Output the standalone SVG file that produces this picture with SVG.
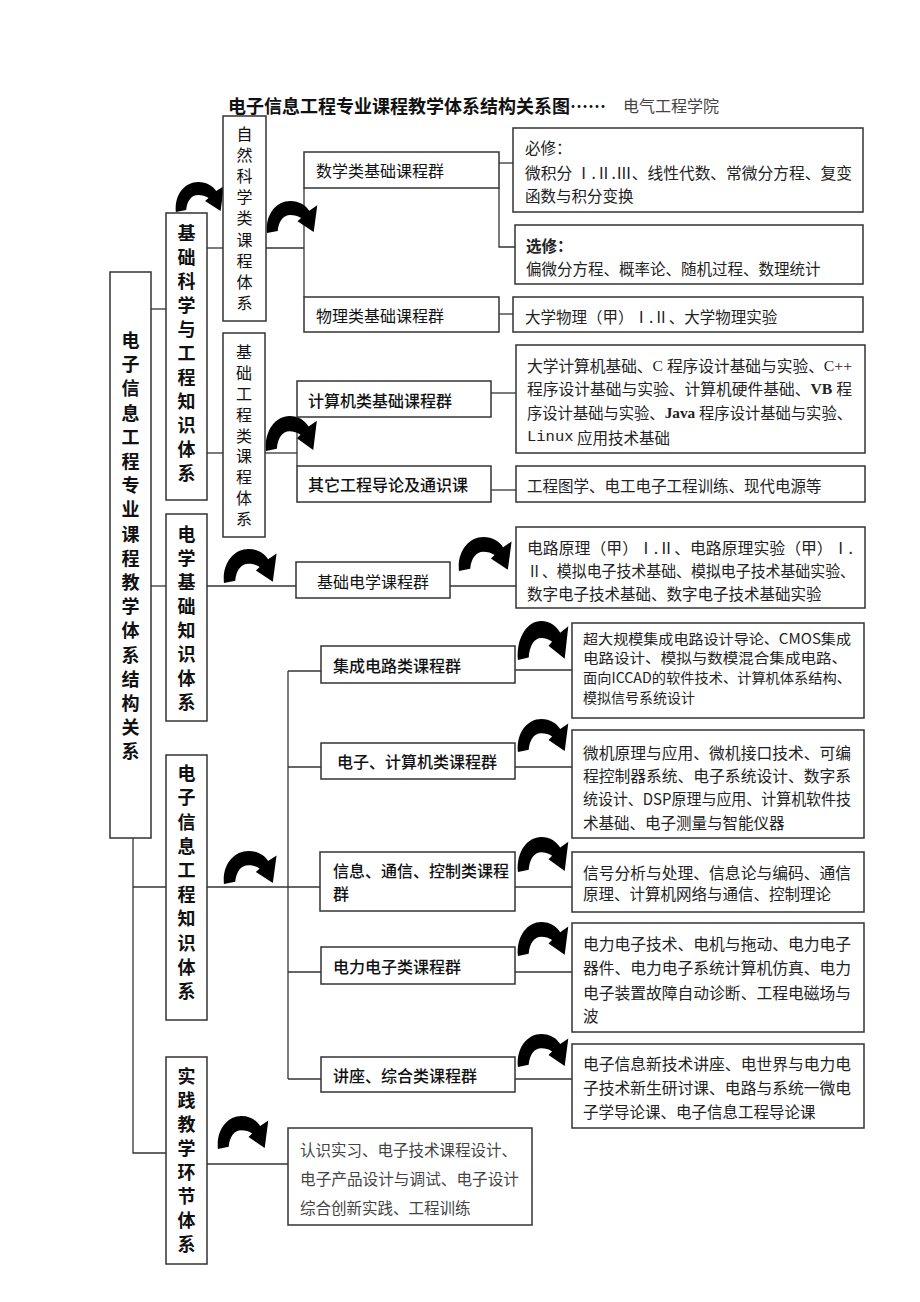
<svg xmlns="http://www.w3.org/2000/svg" width="920" height="1302" viewBox="0 0 920 1302">
<style>
.box{fill:#fff;stroke:#333;stroke-width:1.5}
.ln{fill:none;stroke:#333;stroke-width:1.3}
text{font-family:"Noto Sans CJK SC","Liberation Sans",sans-serif;dominant-baseline:central;fill:#111}
.v{font-size:18px;font-weight:bold;text-anchor:middle}
.vs{font-size:16px;text-anchor:middle}
.g{font-size:16px}
.gb{font-size:16px;font-weight:500}
.c{font-size:15.5px;fill:#222}
.c14{font-size:14px;fill:#222}
.lat{font-family:"Liberation Serif",serif}
.arw{fill:#000}
</style>
<defs>
<path id="carrow" d="M1,30 C-1,12 12,0 27,0 C37,0 44,4 48,9 L57,4 L53,29 L35,19 L39,16 C36,14 31,13 27,13 C19,13 14,19 13,28 Z"/>
</defs>

<g id="title">
<text x="228" y="105" style="font-size:18px;font-weight:bold">电子信息工程专业课程教学体系结构关系图……</text>
<text x="623" y="105" style="font-size:16px;fill:#444">电气工程学院</text>
</g>

<g id="connectors" class="ln">
<path d="M151,309 H166"/>
<path d="M151,586 H166"/>
<path d="M133,838 V1153 H166"/>
<path d="M133,887 H166"/>
<path d="M207,248 H223"/>
<path d="M266,248 H304"/>
<path d="M304,188 V297"/>
<path d="M499,163 H513"/>
<path d="M499,188 V247 H515"/>
<path d="M499,314 H513"/>
<path d="M207,453 H223"/>
<path d="M265,453 H297"/>
<path d="M297,417 V466"/>
<path d="M491,393 H516"/>
<path d="M491,490 H516"/>
<path d="M207,586 H296"/>
<path d="M450,586 H516"/>
<path d="M207,887 H320"/>
<path d="M288,671 V1079"/>
<path d="M288,671 H321"/>
<path d="M288,767 H321"/>
<path d="M288,972 H321"/>
<path d="M288,1079 H321"/>
<path d="M515,670 H572"/>
<path d="M515,767 H572"/>
<path d="M515,887 H572"/>
<path d="M515,972 H572"/>
<path d="M515,1079 H572"/>
<path d="M207,1164 H288"/>
</g>

<g id="curved-arrows" class="arw">
<use href="#carrow" transform="translate(175,182) scale(0.86,1.0)"/>
<use href="#carrow" transform="translate(266,201) scale(0.9,1.07)"/>
<use href="#carrow" transform="translate(265,416) scale(0.91,1.17)"/>
<use href="#carrow" transform="translate(223,549) scale(0.94,1.13)"/>
<use href="#carrow" transform="translate(458,537) scale(0.94,1.13)"/>
<use href="#carrow" transform="translate(517,621) scale(0.9,1.3)"/>
<use href="#carrow" transform="translate(517,719) scale(0.9,1.1)"/>
<use href="#carrow" transform="translate(517,837) scale(0.9,1.17)"/>
<use href="#carrow" transform="translate(517,922) scale(0.9,1.13)"/>
<use href="#carrow" transform="translate(517,1034) scale(0.9,1.1)"/>
<use href="#carrow" transform="translate(223,851) scale(0.94,1.1)"/>
<use href="#carrow" transform="translate(217,1116) scale(0.9,1.1)"/>
</g>

<g id="n-main">
<rect class="box" x="110" y="272" width="41" height="566"/>
<text class="v" x="130.5 130.5 130.5 130.5 130.5 130.5 130.5 130.5 130.5 130.5 130.5 130.5 130.5 130.5 130.5 130.5 130.5 130.5" y="339 363 387 412 436 460 484 508 533 557 581 605 629 654 678 702 726 750">电子信息工程专业课程教学体系结构关系</text>
</g>

<g id="n-jckx">
<rect class="box" x="166" y="213" width="41" height="287"/>
<text class="v" x="186.5 186.5 186.5 186.5 186.5 186.5 186.5 186.5 186.5 186.5 186.5" y="232 256 280 304 328 352 376 400 424 448 472">基础科学与工程知识体系</text>
</g>

<g id="n-zrkx">
<rect class="box" x="223" y="116" width="43" height="205"/>
<text class="vs" x="244.5 244.5 244.5 244.5 244.5 244.5 244.5 244.5 244.5" y="133 154 175 196 217 239 260 281 302">自然科学类课程体系</text>
</g>

<g id="n-jcgc">
<rect class="box" x="223" y="333" width="42" height="204"/>
<text class="vs" x="244 244 244 244 244 244 244 244 244" y="351 372 393 414 435 455 476 497 518">基础工程类课程体系</text>
</g>

<g id="n-sx">
<rect class="box" x="304" y="152" width="195" height="36"/>
<text class="g" x="316" y="170">数学类基础课程群</text>
</g>

<g id="n-wl">
<rect class="box" x="304" y="297" width="195" height="35"/>
<text class="g" x="316" y="315">物理类基础课程群</text>
</g>

<g id="n-jsj">
<rect class="box" x="297" y="381" width="194" height="36"/>
<text class="gb" x="308" y="400">计算机类基础课程群</text>
</g>

<g id="n-qt">
<rect class="box" x="297" y="466" width="194" height="36"/>
<text class="gb" x="308" y="484">其它工程导论及通识课</text>
</g>

<g id="n-bx">
<rect class="box" x="513" y="128" width="350" height="84"/>
<text class="c" x="525" y="147">必修：</text>
<text class="c" x="525" y="172" textLength="327" lengthAdjust="spacingAndGlyphs">微积分 Ⅰ.Ⅱ.Ⅲ、线性代数、常微分方程、复变</text>
<text class="c" x="525" y="195">函数与积分变换</text>
</g>

<g id="n-xx">
<rect class="box" x="515" y="225" width="348" height="59"/>
<text class="c" x="526" y="245" style="font-weight:bold">选修：</text>
<text class="c" x="526" y="268">偏微分方程、概率论、随机过程、数理统计</text>
</g>

<g id="n-dxwl">
<rect class="box" x="513" y="297" width="350" height="35"/>
<text class="c" x="525" y="316">大学物理（甲）Ⅰ.Ⅱ、大学物理实验</text>
</g>

<g id="n-jsjkc">
<rect class="box" x="516" y="345" width="349" height="108"/>
<text class="c" x="527" y="365" textLength="325" lengthAdjust="spacingAndGlyphs">大学计算机基础、<tspan class="lat">C </tspan>程序设计基础与实验、<tspan class="lat">C++</tspan></text>
<text class="c" x="527" y="388" textLength="325" lengthAdjust="spacingAndGlyphs">程序设计基础与实验、计算机硬件基础、<tspan class="lat" font-weight="bold">VB </tspan>程</text>
<text class="c" x="527" y="412" textLength="325" lengthAdjust="spacingAndGlyphs">序设计基础与实验、<tspan class="lat" font-weight="bold">Java </tspan>程序设计基础与实验、</text>
<text class="c" x="527" y="437"><tspan font-family="Liberation Mono,monospace">Linux</tspan> 应用技术基础</text>
</g>

<g id="n-gctx">
<rect class="box" x="516" y="466" width="349" height="36"/>
<text class="c" x="527" y="485">工程图学、电工电子工程训练、现代电源等</text>
</g>

<g id="n-dx">
<rect class="box" x="166" y="514" width="41" height="207"/>
<text class="v" x="186.5 186.5 186.5 186.5 186.5 186.5 186.5 186.5" y="533 557 581 605 629 653 677 701">电学基础知识体系</text>
</g>

<g id="n-jcdx">
<rect class="box" x="296" y="562" width="154" height="36"/>
<text class="g" x="317" y="581">基础电学课程群</text>
</g>

<g id="n-dlyl">
<rect class="box" x="516" y="527" width="349" height="81"/>
<text class="c" x="527" y="547" textLength="326" lengthAdjust="spacingAndGlyphs">电路原理（甲）Ⅰ.Ⅱ、电路原理实验（甲）Ⅰ.</text>
<text class="c" x="527" y="570" textLength="328" lengthAdjust="spacingAndGlyphs">Ⅱ、模拟电子技术基础、模拟电子技术基础实验、</text>
<text class="c" x="527" y="593">数字电子技术基础、数字电子技术基础实验</text>
</g>

<g id="n-dzxx">
<rect class="box" x="166" y="755" width="41" height="265"/>
<text class="v" x="186.5 186.5 186.5 186.5 186.5 186.5 186.5 186.5 186.5 186.5" y="772 796 821 845 869 893 917 942 966 990">电子信息工程知识体系</text>
</g>

<g id="n-sj">
<rect class="box" x="166" y="1057" width="41" height="207"/>
<text class="v" x="186.5 186.5 186.5 186.5 186.5 186.5 186.5 186.5" y="1075 1099 1123 1147 1171 1195 1219 1243">实践教学环节体系</text>
</g>

<g id="n-jcdl">
<rect class="box" x="321" y="646" width="194" height="37"/>
<text class="gb" x="333" y="665">集成电路类课程群</text>
</g>

<g id="n-dzjsj">
<rect class="box" x="321" y="743" width="194" height="36"/>
<text class="gb" x="337" y="761">电子、计算机类课程群</text>
</g>

<g id="n-xxtx">
<rect class="box" x="320" y="852" width="195" height="59"/>
<text class="gb" x="333" y="870">信息、通信、控制类课程</text>
<text class="gb" x="333" y="893">群</text>
</g>

<g id="n-dldz">
<rect class="box" x="321" y="947" width="194" height="37"/>
<text class="gb" x="333" y="966">电力电子类课程群</text>
</g>

<g id="n-jz">
<rect class="box" x="321" y="1057" width="194" height="35"/>
<text class="gb" x="333" y="1075">讲座、综合类课程群</text>
</g>

<g id="n-cdgm">
<rect class="box" x="572" y="623" width="292" height="95"/>
<text class="c14" x="583" y="638" textLength="268" lengthAdjust="spacingAndGlyphs">超大规模集成电路设计导论、CMOS集成</text>
<text class="c14" x="583" y="657" textLength="264" lengthAdjust="spacingAndGlyphs">电路设计、模拟与数模混合集成电路、</text>
<text class="c14" x="583" y="677" textLength="268" lengthAdjust="spacingAndGlyphs">面向ICCAD的软件技术、计算机体系结构、</text>
<text class="c14" x="583" y="697">模拟信号系统设计</text>
</g>

<g id="n-wjyl">
<rect class="box" x="572" y="730" width="292" height="108"/>
<text class="c" x="583" y="752" textLength="268" lengthAdjust="spacingAndGlyphs">微机原理与应用、微机接口技术、可编</text>
<text class="c" x="583" y="775" textLength="268" lengthAdjust="spacingAndGlyphs">程控制器系统、电子系统设计、数字系</text>
<text class="c" x="583" y="798" textLength="268" lengthAdjust="spacingAndGlyphs">统设计、DSP原理与应用、计算机软件技</text>
<text class="c" x="583" y="822">术基础、电子测量与智能仪器</text>
</g>

<g id="n-xhfx">
<rect class="box" x="572" y="852" width="292" height="60"/>
<text class="c" x="583" y="872" textLength="268" lengthAdjust="spacingAndGlyphs">信号分析与处理、信息论与编码、通信</text>
<text class="c" x="583" y="893">原理、计算机网络与通信、控制理论</text>
</g>

<g id="n-dldzjs">
<rect class="box" x="572" y="923" width="292" height="109"/>
<text class="c" x="583" y="943" textLength="268" lengthAdjust="spacingAndGlyphs">电力电子技术、电机与拖动、电力电子</text>
<text class="c" x="583" y="967" textLength="268" lengthAdjust="spacingAndGlyphs">器件、电力电子系统计算机仿真、电力</text>
<text class="c" x="583" y="992" textLength="268" lengthAdjust="spacingAndGlyphs">电子装置故障自动诊断、工程电磁场与</text>
<text class="c" x="583" y="1015">波</text>
</g>

<g id="n-xjs">
<rect class="box" x="572" y="1044" width="292" height="84"/>
<text class="c" x="583" y="1063" textLength="268" lengthAdjust="spacingAndGlyphs">电子信息新技术讲座、电世界与电力电</text>
<text class="c" x="583" y="1087" textLength="268" lengthAdjust="spacingAndGlyphs">子技术新生研讨课、电路与系统一微电</text>
<text class="c" x="583" y="1111">子学导论课、电子信息工程导论课</text>
</g>

<g id="n-rssx">
<rect class="box" x="288" y="1128" width="244" height="97"/>
<text class="c" x="300" y="1149" style="fill:#444">认识实习、电子技术课程设计、</text>
<text class="c" x="300" y="1178" style="fill:#444" textLength="219" lengthAdjust="spacingAndGlyphs">电子产品设计与调试、电子设计</text>
<text class="c" x="300" y="1207" style="fill:#444">综合创新实践、工程训练</text>
</g>
</svg>
